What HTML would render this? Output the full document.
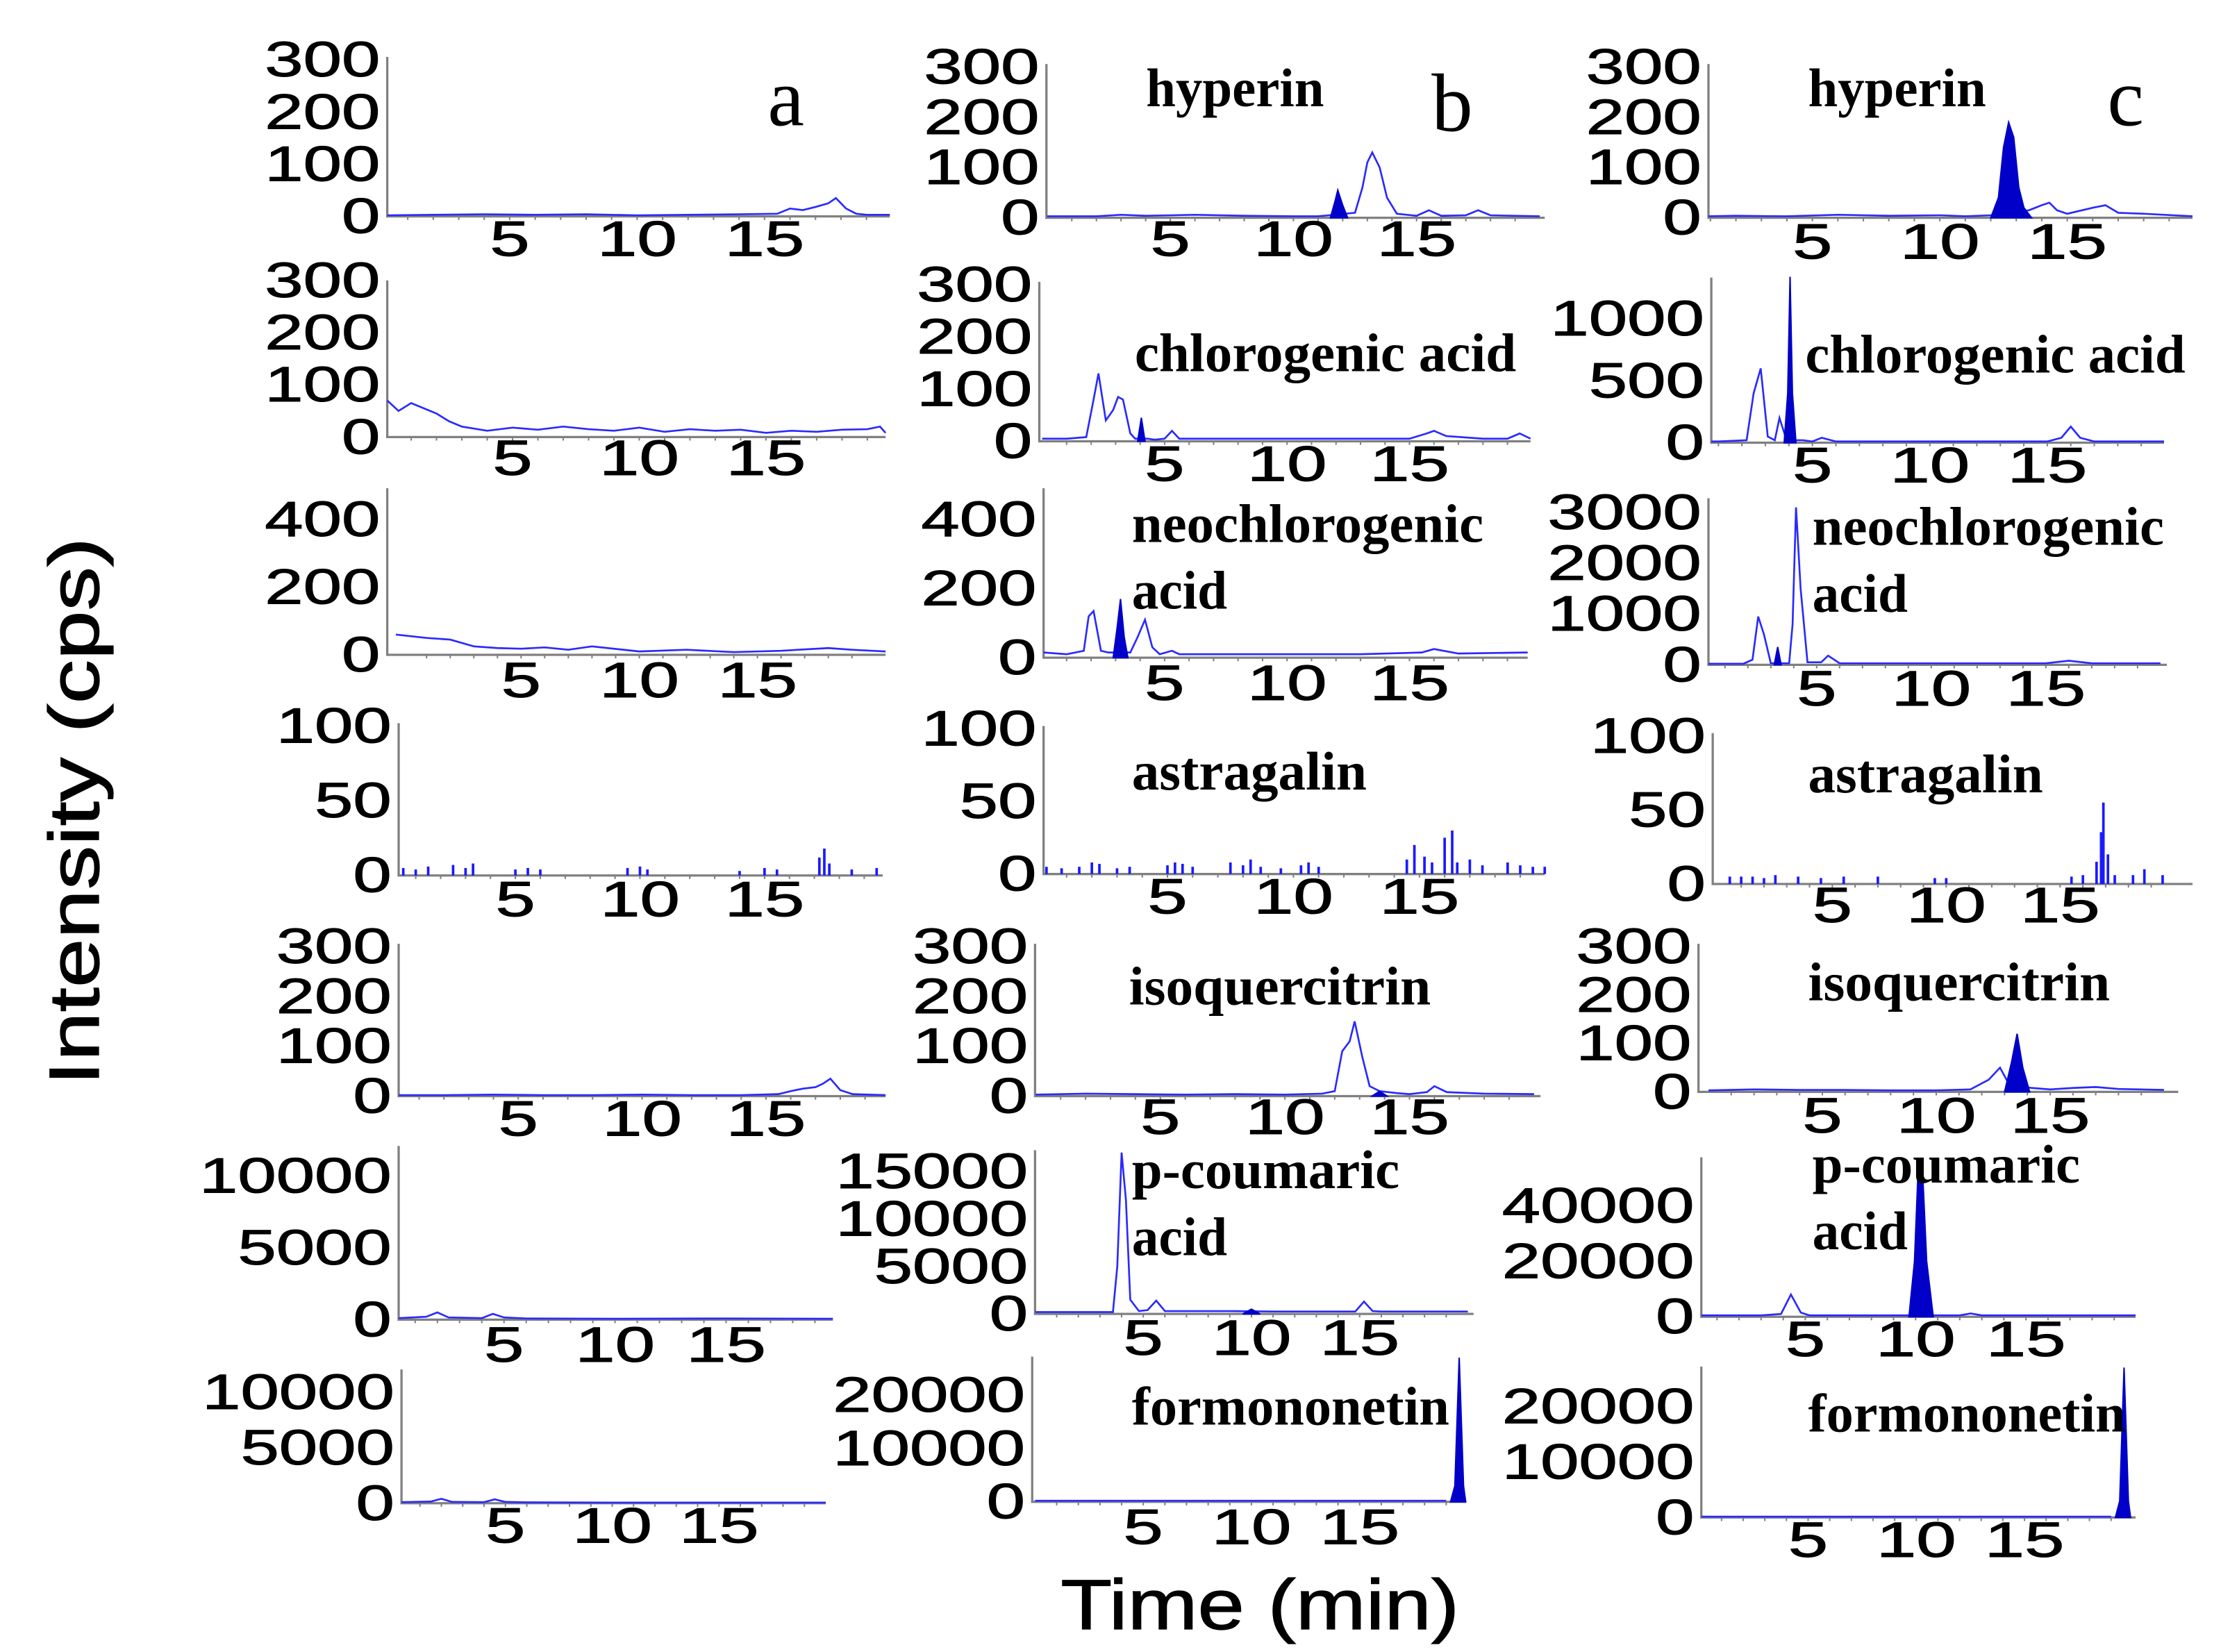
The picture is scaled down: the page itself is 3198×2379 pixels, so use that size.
<!DOCTYPE html>
<html><head><meta charset="utf-8"><style>
html,body{margin:0;padding:0;background:#fff;}
svg{display:block;}
</style></head><body>
<svg id="fig" xmlns="http://www.w3.org/2000/svg" width="3198" height="2379" viewBox="0 0 1560 1160.5">
<rect x="0" y="0" width="1560" height="1160.5" fill="#fff"/>
<text x="52" y="570" transform="rotate(-90 52 570)" text-anchor="middle" dominant-baseline="central" font-family="Liberation Sans, sans-serif" font-size="50" textLength="385" lengthAdjust="spacingAndGlyphs" stroke="#000" stroke-width="0.6">Intensity (cps)</text>
<text x="885" y="1127" text-anchor="middle" dominant-baseline="central" font-family="Liberation Sans, sans-serif" font-size="50" textLength="280" lengthAdjust="spacingAndGlyphs" stroke="#000" stroke-width="0.6">Time (min)</text>
<text x="552" y="88" text-anchor="middle" font-family="Liberation Serif, serif" font-size="58">a</text>
<text x="1020" y="92" text-anchor="middle" font-family="Liberation Serif, serif" font-size="58">b</text>
<text x="1493" y="88" text-anchor="middle" font-family="Liberation Serif, serif" font-size="58">c</text>
</svg>
<script>
// ---- data (time in min, intensity in cps) ----
const a1_t=[0,2,4,6,8,10,12,14,15.5,16,16.5,17,17.5,17.8,18.2,18.6,19,20];
const a1_v=[2,3,4,3,4,2,3,4,5,15,12,18,25,35,15,5,3,3];
const a2_t=[0,0.5,1,1.5,2,2.5,3,4,5,6,7,8,9,10,11,12,13,14,15,16,17,18,19,19.5,20];
const a2_v=[70,50,65,55,45,30,20,12,18,14,20,15,12,18,10,15,12,14,8,12,10,14,15,20,8];
const a3_t=[-0.3,1,2,3,4,5,6,7,8,10,12,14,16,18,19,20.5];
const a3_v=[60,50,45,25,20,18,22,15,25,10,15,8,12,20,15,10];
const a4_t=[0.5,1,1.5,2.5,3,3.3,5,5.5,6,9.5,10,10.3,14,15,15.5,17.2,17.4,17.6,18.5,19.5];
const a4_v=[5,4,6,7,5,8,4,5,4,5,6,4,3,5,4,12,18,8,4,5];
const a5_t=[0,2,4,6,8,10,12,14,15.5,16,16.5,17,17.3,17.6,18,18.5,20];
const a5_v=[2,2,3,2,2,3,2,2,4,10,15,18,25,35,12,4,2];
const a6_t=[0,1.5,2,2.5,4,4.5,5,6,10,15,20];
const a6_v=[100,200,500,150,100,400,150,80,60,80,60];
const a7_t=[0,1.5,2,2.5,4,4.5,5,6,10,15,20];
const a7_v=[100,150,400,120,100,350,120,80,60,60,60];

const b1_t=[0,2,3,4,5,6,8,10,11,12.5,12.8,13,13.2,13.5,13.8,14.2,15,15.5,16,17,17.5,18,20];
const b1_v=[3,3,6,4,5,6,4,3,3,10,60,110,130,100,40,8,4,15,4,5,15,5,3];
const b1_ft=[11.5,11.7,11.8,12,12.2];
const b1_fv=[0,35,55,25,0];
const b2_t=[0,1,1.8,2.1,2.3,2.6,2.9,3.1,3.3,3.6,3.8,4.3,4.6,5,5.3,5.6,7,9,11,13,15,15.7,16,16.5,18,19,19.5,20];
const b2_v=[5,5,8,80,130,40,60,85,80,15,5,5,3,5,20,5,5,5,5,5,5,15,20,10,5,5,15,5];
const b2_ft=[3.9,4.05,4.2];
const b2_fv=[0,45,0];
const b3_t=[0,1,1.7,1.9,2.1,2.4,2.7,3.6,3.9,4.2,4.5,4.8,5.3,5.6,7,10,13,15.5,16,17,20];
const b3_v=[15,10,20,120,135,20,15,15,60,110,30,10,20,10,10,10,10,15,25,12,15];
const b3_ft=[2.9,3.05,3.2,3.35,3.5];
const b3_fv=[0,80,170,60,0];
const b4_t=[0.2,0.8,1.5,2,2.3,3,3.5,5,5.3,5.6,6,7.5,8,8.3,8.7,9.5,10.3,10.6,11,14.5,14.8,15.2,15.5,16,16.3,16.5,17,17.5,18.5,19,19.5,20];
const b4_v=[5,4,5,8,7,4,5,6,8,7,5,8,6,10,5,4,6,8,5,10,20,12,8,25,30,8,10,6,8,6,5,5];
const b5_t=[0,2,4,6,8,10,11.5,12,12.3,12.6,12.8,13.1,13.4,13.8,14.5,15,15.7,16,16.5,18,20];
const b5_v=[3,5,4,3,4,3,5,10,90,110,150,80,20,10,6,4,8,20,8,5,4];
const b5_ft=[13.5,13.8,14.1];
const b5_fv=[0,10,0];
const b6_t=[0,2,3.6,3.8,4,4.2,4.4,4.8,5.2,5.6,6,7,9,11,14.8,15.2,15.6,16,20];
const b6_v=[200,200,200,5000,17000,12000,1500,300,400,1400,300,300,300,250,250,1300,300,250,250];
const b6_ft=[9.6,10,10.4];
const b6_fv=[0,500,0];
const b7_t=[0,10,19];
const b7_v=[200,200,200];
const b7_ft=[19.2,19.4,19.6,19.8,19.9];
const b7_fv=[0,3000,27000,3000,0];

const c1_t=[0,2,4,6,8,10,11,12,13.5,14,14.3,14.6,15,16,16.5,17,18,20];
const c1_v=[3,4,3,6,4,5,3,5,15,25,30,15,8,20,25,10,8,3];
const c1_ft=[12,12.3,12.5,12.7,12.9,13.1,13.3,13.6];
const c1_fv=[0,40,140,190,160,60,20,0];
const c2_t=[0,1,2.2,2.5,2.8,3.1,3.4,3.6,3.9,4.6,5,5.4,6,10,15,15.6,16,16.4,17,20];
const c2_v=[10,10,20,400,600,50,20,200,20,20,10,40,10,10,10,40,130,40,10,10];
const c2_ft=[3.8,3.95,4.05,4.15,4.3];
const c2_fv=[0,400,1340,400,0];
const c3_t=[0,1.8,2.2,2.45,2.7,3,3.8,3.95,4.1,4.3,4.6,5.2,5.5,6,10,15,16,17,20];
const c3_v=[20,20,100,950,600,30,30,800,3100,1500,50,50,180,30,30,30,80,30,30];
const c3_ft=[3.15,3.3,3.45];
const c3_fv=[0,350,0];
const c4_t=[0.5,1,1.5,2,2.5,3.5,4.5,5.5,7,9.5,10,15.5,16,16.6,16.8,16.9,17.1,17.4,18.2,18.7,19.5];
const c4_v=[5,5,5,4,6,5,4,5,5,4,4,5,6,15,35,55,20,6,6,10,6];
const c5_t=[0,2,4,6,8,10,11.5,12.3,12.8,13.2,14.2,15,16,17,18,20];
const c5_v=[3,5,4,4,3,3,5,25,50,15,8,5,8,10,6,4];
const c5_ft=[13.0,13.3,13.55,13.8,14.1];
const c5_fv=[0,60,120,50,0];
const c6_t=[0,3,3.9,4.35,4.8,5.2,8,12,12.5,13,20];
const c6_v=[500,500,1000,8000,1500,500,500,500,1200,500,500];
const c6_ft=[9.7,9.95,10.1,10.3,10.5,10.8];
const c6_fv=[0,20000,50000,55000,20000,0];
const c7_t=[0,10,19];
const c7_v=[150,150,150];
const c7_ft=[19.2,19.4,19.6,19.8,19.9];
const c7_fv=[0,3000,27000,3000,0];

// tick labels
const yt_300=[0,100,200,300];
const yt_400=[0,200,400];
const yt_100=[0,50,100];
const yt_10k=[0,5000,10000];
const yt_15k=[0,5000,10000,15000];
const yt_20k=[0,10000,20000];
const yt_1000=[0,500,1000];
const yt_3000=[0,1000,2000,3000];
const yt_40k=[0,20000,40000];
const xt=[5,10,15];

// ---- layout (positions only) ----
const panels=[
 {id:'a1',x0:272,x1:625,base:152,rv:300,ry:42,top:40,t5:358,t15:537,xl:168,yt:yt_300,t:a1_t,v:a1_v},
 {id:'a2',x0:272,x1:622,base:307,rv:300,ry:197,top:197,t5:360,t15:538,xl:322,yt:yt_300,t:a2_t,v:a2_v},
 {id:'a3',x0:272,x1:622,base:460,rv:400,ry:365,top:343,t5:366,t15:532,xl:478,yt:yt_400,t:a3_t,v:a3_v},
 {id:'a4',x0:280,x1:620,base:615,rv:100,ry:510,top:508,t5:362,t15:537,xl:632,yt:yt_100,t:a4_t,v:a4_v,spike:true},
 {id:'a5',x0:280,x1:622,base:770,rv:300,ry:665,top:663,t5:364,t15:538,xl:786,yt:yt_300,t:a5_t,v:a5_v},
 {id:'a6',x0:280,x1:585,base:927,rv:10000,ry:826,top:805,t5:354,t15:510,xl:945,yt:yt_10k,t:a6_t,v:a6_v},
 {id:'a7',x0:282,x1:580,base:1056,rv:10000,ry:978,top:962,t5:355,t15:505,xl:1072,yt:yt_10k,t:a7_t,v:a7_v},
 {id:'b1',x0:735,x1:1085,base:153,rv:300,ry:47,top:45,t5:822,t15:995,xl:168,yt:yt_300,t:b1_t,v:b1_v,ft:b1_ft,fv:b1_fv,name:['hyperin'],nx:805,ny:62,nw:[125]},
 {id:'b2',x0:730,x1:1075,base:310,rv:300,ry:200,top:198,t5:818,t15:990,xl:326,yt:yt_300,t:b2_t,v:b2_v,ft:b2_ft,fv:b2_fv,name:['chlorogenic acid'],nx:797,ny:248,nw:[268]},
 {id:'b3',x0:733,x1:1073,base:462,rv:400,ry:365,top:343,t5:818,t15:990,xl:480,yt:yt_400,t:b3_t,v:b3_v,ft:b3_ft,fv:b3_fv,name:['neochlorogenic','acid'],nx:795,ny:368,nw:[247,67]},
 {id:'b4',x0:733,x1:1085,base:614,rv:100,ry:512,top:510,t5:820,t15:997,xl:630,yt:yt_100,t:b4_t,v:b4_v,spike:true,name:['astragalin'],nx:795,ny:542,nw:[165]},
 {id:'b5',x0:727,x1:1082,base:770,rv:300,ry:665,top:663,t5:815,t15:990,xl:785,yt:yt_300,t:b5_t,v:b5_v,ft:b5_ft,fv:b5_fv,name:['isoquercitrin'],nx:793,ny:693,nw:[212]},
 {id:'b6',x0:727,x1:1035,base:923,rv:15000,ry:823,top:808,t5:803,t15:955,xl:940,yt:yt_15k,t:b6_t,v:b6_v,ft:b6_ft,fv:b6_fv,name:['p-coumaric','acid'],nx:795,ny:822,nw:[188,67]},
 {id:'b7',x0:725,x1:1030,base:1055,rv:20000,ry:980,top:953,t5:803,t15:955,xl:1073,yt:yt_20k,t:b7_t,v:b7_v,ft:b7_ft,fv:b7_fv,name:['formononetin'],nx:795,ny:988,nw:[223]},
 {id:'c1',x0:1200,x1:1540,base:153,rv:300,ry:47,top:45,t5:1273,t15:1452,xl:170,yt:yt_300,t:c1_t,v:c1_v,ft:c1_ft,fv:c1_fv,name:['hyperin'],nx:1270,ny:62,nw:[125]},
 {id:'c2',x0:1202,x1:1520,base:311,rv:1000,ry:224,top:195,t5:1273,t15:1438,xl:327,yt:yt_1000,t:c2_t,v:c2_v,ft:c2_ft,fv:c2_fv,name:['chlorogenic acid'],nx:1268,ny:249,nw:[267]},
 {id:'c3',x0:1200,x1:1522,base:467,rv:3000,ry:360,top:350,t5:1276,t15:1437,xl:484,yt:yt_3000,t:c3_t,v:c3_v,ft:c3_ft,fv:c3_fv,name:['neochlorogenic','acid'],nx:1273,ny:370,nw:[247,67]},
 {id:'c4',x0:1203,x1:1540,base:621,rv:100,ry:517,top:515,t5:1287,t15:1447,xl:636,yt:yt_100,t:c4_t,v:c4_v,spike:true,name:['astragalin'],nx:1270,ny:544,nw:[165]},
 {id:'c5',x0:1193,x1:1530,base:767,rv:300,ry:665,top:663,t5:1280,t15:1440,xl:784,yt:yt_300,t:c5_t,v:c5_v,ft:c5_ft,fv:c5_fv,name:['isoquercitrin'],nx:1270,ny:690,nw:[212]},
 {id:'c6',x0:1195,x1:1500,base:925,rv:40000,ry:847,top:813,t5:1268,t15:1423,xl:941,yt:yt_40k,t:c6_t,v:c6_v,ft:c6_ft,fv:c6_fv,name:['p-coumaric','acid'],nx:1273,ny:818,nw:[188,67]},
 {id:'c7',x0:1195,x1:1500,base:1066,rv:20000,ry:988,top:960,t5:1270,t15:1422,xl:1082,yt:yt_20k,t:c7_t,v:c7_v,ft:c7_ft,fv:c7_fv,name:['formononetin'],nx:1270,ny:993,nw:[223]}
];
const NS='http://www.w3.org/2000/svg';
const svg=document.getElementById('fig');
function mk(tag,attrs,parent){const e=document.createElementNS(NS,tag);for(const k in attrs)e.setAttribute(k,attrs[k]);(parent||svg).appendChild(e);return e;}
panels.forEach(p=>{
  const g=mk('g',{});
  
  
  const ppm=(p.t15-p.t5)/10;
  const xs0=t=>p.t5+(t-5)*ppm;
  const xs=t=>Math.min(p.x1,Math.max(p.x0,xs0(t)));
  const ys=v=>p.base-v/p.rv*(p.base-p.ry);
  const ax=mk('path',{d:`M${p.x0},${p.top} L${p.x0},${p.base} L${p.x1},${p.base}`,fill:'none',stroke:'#808080','stroke-width':1.6},g);
  
  
  for(let m=1;m<20;m++){const x=xs0(m);if(x>p.x0&&x<p.x1){const tk=mk('line',{x1:x,y1:p.base,x2:x,y2:p.base+2.5,stroke:'#808080','stroke-width':1},g);}}
  p.yt.forEach(v=>{
    const s=String(v);
    const tx=mk('text',{x:p.x0-5,y:ys(v),'text-anchor':'end','dominant-baseline':'central','font-family':'Liberation Sans, sans-serif','font-size':35,stroke:'#000','stroke-width':0.5,textLength:s.length*27,lengthAdjust:'spacingAndGlyphs'},g);
    tx.textContent=s;
    
    
  });
  xt.forEach(v=>{
    const s=String(v);
    const tx=mk('text',{x:xs0(v),y:p.xl,'text-anchor':'middle','dominant-baseline':'central','font-family':'Liberation Sans, sans-serif','font-size':35,stroke:'#000','stroke-width':0.5,textLength:s.length*28,lengthAdjust:'spacingAndGlyphs'},g);
    tx.textContent=s;
    
    
  });
  if(p.spike){
    let d='';
    p.t.forEach((t,i)=>{d+=`M${xs(t)},${p.base} L${xs(t)},${ys(p.v[i])} `;});
    const sp=mk('path',{d:d,fill:'none',stroke:'#1a1aff','stroke-width':1.8},g);
    
    
  } else {
    const d=p.t.map((t,i)=>(i?'L':'M')+xs(t)+','+ys(p.v[i])).join(' ');
    const ln=mk('path',{d:d,fill:'none',stroke:'#2a2aff','stroke-width':1.3},g);
    
    
  }
  if(p.ft){
    const d=p.ft.map((t,i)=>(i?'L':'M')+xs(t)+','+ys(p.fv[i])).join(' ')+' Z';
    const pk=mk('path',{d:d,fill:'#0000c8',stroke:'#0000c8','stroke-width':1},g);
    
    
  }
  if(p.name){
    p.name.forEach((n,i)=>{
      const tx=mk('text',{x:p.nx,y:p.ny+i*47,'dominant-baseline':'central','font-family':'Liberation Serif, serif','font-weight':'bold','font-size':38,textLength:p.nw[i],lengthAdjust:'spacingAndGlyphs'},g);
      tx.textContent=n;
      
      
    });
  }
});
</script>
</body></html>
